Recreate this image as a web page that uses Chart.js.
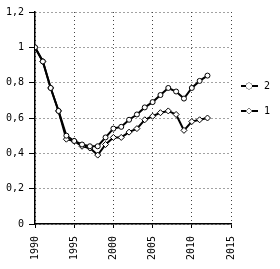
<!DOCTYPE html>
<html>
<head>
<meta charset="utf-8">
<script src="https://cdn.jsdelivr.net/npm/chart.js@4.4.1/dist/chart.umd.min.js"></script>
<style>
  html, body { margin: 0; padding: 0; background: #fff; }
  #wrap { width: 280px; height: 269px; position: relative; }
</style>
</head>
<body>
<div id="wrap"><canvas id="chart"></canvas></div>
<script>
const years = [1990, 1991, 1992, 1993, 1994, 1995, 1996, 1997, 1998, 1999, 2000,
  2001, 2002, 2003, 2004, 2005, 2006, 2007, 2008, 2009, 2010, 2011, 2012];
const series2 = [1.00, 0.92, 0.77, 0.64, 0.50, 0.47, 0.45, 0.44, 0.44, 0.49, 0.54,
  0.55, 0.59, 0.62, 0.66, 0.69, 0.73, 0.77, 0.75, 0.71, 0.77, 0.81, 0.84];
const series1 = [1.00, 0.92, 0.77, 0.64, 0.48, 0.47, 0.44, 0.43, 0.39, 0.45, 0.49,
  0.49, 0.52, 0.54, 0.59, 0.61, 0.63, 0.64, 0.62, 0.53, 0.58, 0.59, 0.60];
const seriesLabels = ["2", "1"];
const yTicks = [0, 0.2, 0.4, 0.6, 0.8, 1, 1.2];
const xTicks = [1990, 1995, 2000, 2005, 2010, 2015];

const fontFamily = "'DejaVu Sans Mono', monospace";

const toPoints = (vals) => vals.map((v, i) => ({ x: years[i], y: v }));

// legend to the right of the plot: short line with the marker in the middle
const sideLegend = {
  id: "sideLegend",
  afterDraw(chart) {
    const { ctx, chartArea } = chart;
    const x0 = chartArea.right + 10;
    const rows = [86, 111];
    chart.data.datasets.forEach((ds, i) => {
      const y = rows[i];
      ctx.save();
      ctx.strokeStyle = "#000";
      ctx.lineWidth = 2;
      ctx.beginPath();
      ctx.moveTo(x0, y);
      ctx.lineTo(x0 + 17, y);
      ctx.stroke();
      ctx.lineWidth = 1;
      ctx.fillStyle = "#fff";
      Chart.helpers.drawPoint(ctx, { pointStyle: ds.pointStyle, radius: 3, borderWidth: 1 }, x0 + 8, y);
      ctx.fill();
      ctx.fillStyle = "#000";
      ctx.font = "10px " + fontFamily;
      ctx.textBaseline = "middle";
      ctx.fillText(ds.label, x0 + 23, y);
      ctx.restore();
    });
  }
};

// vertical year labels under the x axis, placed with the x scale
const yearLabels = {
  id: "yearLabels",
  afterDraw(chart) {
    const { ctx, chartArea } = chart;
    const sx = chart.scales.x;
    xTicks.forEach((v) => {
      ctx.save();
      ctx.translate(sx.getPixelForValue(v), chartArea.bottom + 12);
      ctx.rotate(-Math.PI / 2);
      ctx.fillStyle = "#000";
      ctx.font = "10px " + fontFamily;
      ctx.textAlign = "right";
      ctx.textBaseline = "middle";
      ctx.fillText(String(v), 0, 0);
      ctx.restore();
    });
  }
};

new Chart("chart", {
  type: "line",
  data: {
    datasets: [
      {
        label: seriesLabels[0],
        data: toPoints(series2),
        borderColor: "#000",
        borderWidth: 2,
        pointStyle: "circle",
        pointRadius: 2.5,
        pointBorderWidth: 1,
        pointBackgroundColor: "#fff",
        pointBorderColor: "#000",
        tension: 0
      },
      {
        label: seriesLabels[1],
        data: toPoints(series1),
        borderColor: "#000",
        borderWidth: 2,
        pointStyle: "rectRot",
        pointRadius: 3,
        pointBorderWidth: 1,
        pointBackgroundColor: "#fff",
        pointBorderColor: "#000",
        tension: 0
      }
    ]
  },
  options: {
    responsive: true,
    maintainAspectRatio: false,
    animation: false,
    layout: { padding: { top: 12, right: 49, left: 0, bottom: 0 } },
    plugins: { legend: { display: false }, tooltip: { enabled: false } },
    scales: {
      x: {
        type: "linear",
        min: 1990,
        max: 2015,
        afterBuildTicks: (axis) => { axis.ticks = xTicks.map(v => ({ value: v })); },
        afterFit: (axis) => { axis.height = 45; },
        ticks: { display: false },
        grid: { color: "#444", lineWidth: 1, tickColor: "#000", tickLength: 4 },
        border: { color: "#000", width: 1.5, dash: [1, 3] }
      },
      y: {
        min: 0,
        max: 1.2,
        afterBuildTicks: (axis) => { axis.ticks = yTicks.map(v => ({ value: v })); },
        afterFit: (axis) => { axis.width = 35; },
        ticks: {
          color: "#000",
          font: { family: fontFamily, size: 10 },
          padding: 5,
          callback: (v) => String(Math.round(v * 10) / 10).replace(".", ",")
        },
        grid: { color: "#444", lineWidth: 1, tickColor: "#000", tickLength: 6 },
        border: { color: "#000", width: 1.5, dash: [1, 3] }
      }
    }
  },
  plugins: [sideLegend, yearLabels]
});
</script>
</body>
</html>
